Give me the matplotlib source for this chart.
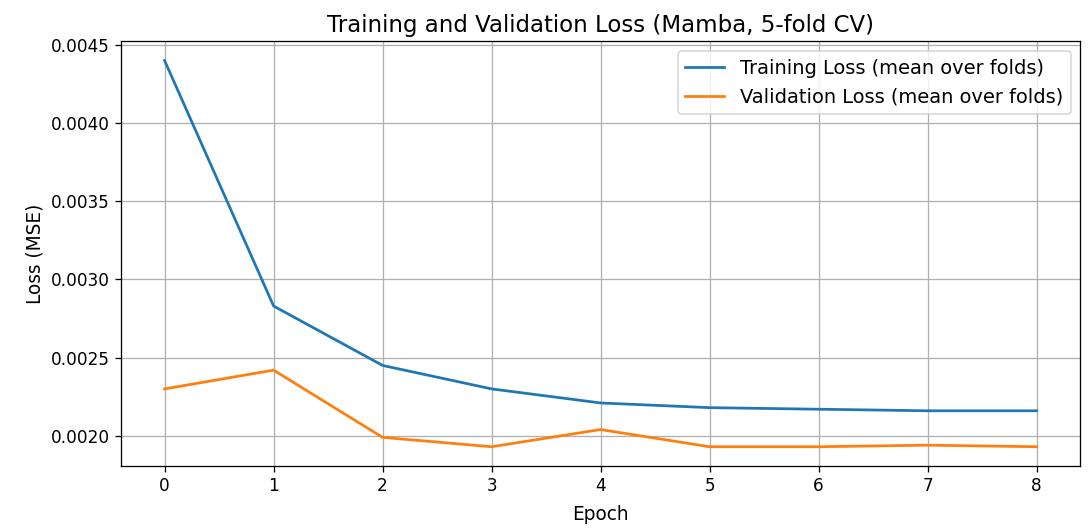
import numpy as np
import matplotlib.pyplot as plt

# per-epoch loss, mean over folds
epochs = [0, 1, 2, 3, 4, 5, 6, 7, 8]
train_loss = [0.00440, 0.00283, 0.00245, 0.00230, 0.00221, 0.00218, 0.00217, 0.00216, 0.00216]
val_loss = [0.00230, 0.00242, 0.00199, 0.00193, 0.00204, 0.00193, 0.00193, 0.00194, 0.00193]

dpi = 116
fig = plt.figure(figsize=(1090 / dpi, 529 / dpi), dpi=dpi)
ax = fig.add_axes([0.111, 0.119, 0.88, 0.803])

ax.plot(epochs, train_loss, label='Training Loss (mean over folds)', linewidth=1.7)
ax.plot(epochs, val_loss, label='Validation Loss (mean over folds)', linewidth=1.7)

ax.set_title('Training and Validation Loss (Mamba, 5-fold CV)', fontsize=14.2)
ax.set_xlabel('Epoch', fontsize=11.5, labelpad=6)
ax.set_ylabel('Loss (MSE)', fontsize=11.5)
ax.tick_params(labelsize=10.5)
ax.legend(fontsize=12)
ax.grid(True)

fig.savefig('out.png', dpi=dpi)
